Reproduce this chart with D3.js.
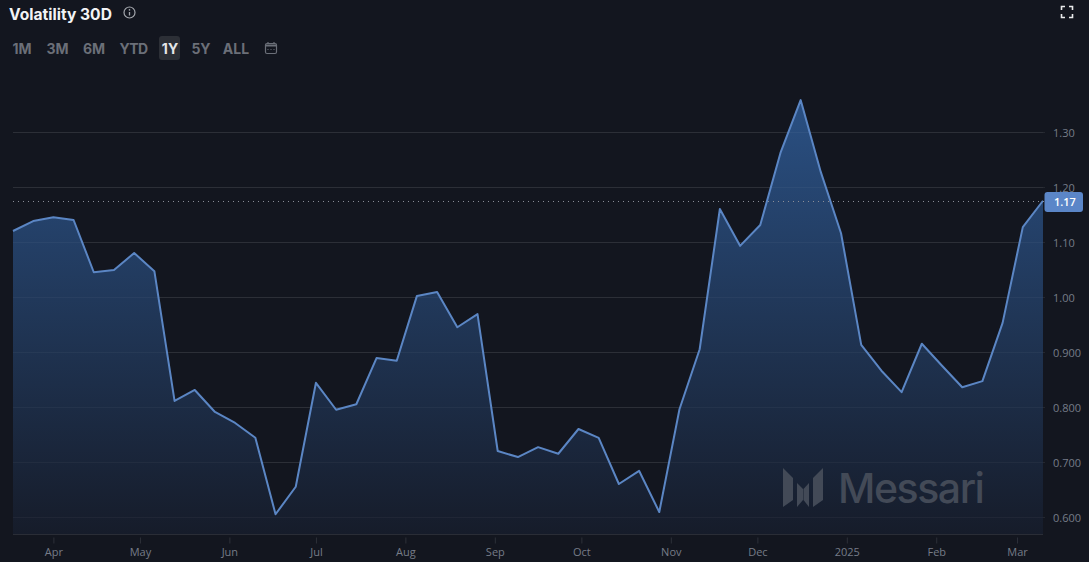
<!DOCTYPE html>
<html lang="en">
  <head>
    <meta charset="utf-8" />
    <title>Volatility 30D</title>
    <script src="https://d3js.org/d3.v7.min.js"></script>
    <style type="text/css">
      html, body { margin: 0; padding: 0; background: #13161f; overflow: hidden; }
      text { font-family: Inter, "Noto Sans", sans-serif; }
      .axis text { fill: #767c88; font-size: 11px; font-family: "Open Sans", sans-serif; }
    </style>
  </head>
  <body>
    <script type="text/javascript">
      //Width and height
      var w = 1089;
      var h = 562;

      //Weekly values, first point is Mon 18 Mar 2024
      var firstDate = new Date(Date.UTC(2024, 2, 18));
      var volatility = [
        1.12, 1.138, 1.145, 1.14, 1.045, 1.049, 1.08, 1.047, 0.811, 0.831, 0.791,
        0.771, 0.744, 0.605, 0.655, 0.844, 0.795, 0.805, 0.889, 0.884, 1.002, 1.009,
        0.945, 0.969, 0.72, 0.709, 0.727, 0.715, 0.76, 0.744, 0.66, 0.684, 0.609,
        0.796, 0.905, 1.16, 1.093, 1.131, 1.262, 1.358, 1.227, 1.116, 0.913, 0.866,
        0.827, 0.915, 0.875, 0.836, 0.847, 0.953, 1.127, 1.175
      ];
      var yTicks = [0.6, 0.7, 0.8, 0.9, 1.0, 1.1, 1.2, 1.3];
      var yTickLabels = ["0.600", "0.700", "0.800", "0.900", "1.00", "1.10", "1.20", "1.30"];
      var monthTicks = [
        [2024, 3], [2024, 4], [2024, 5], [2024, 6], [2024, 7], [2024, 8],
        [2024, 9], [2024, 10], [2024, 11], [2025, 0], [2025, 1], [2025, 2]
      ];
      var monthLabels = ["Apr", "May", "Jun", "Jul", "Aug", "Sep", "Oct", "Nov", "Dec", "2025", "Feb", "Mar"];
      var ranges = ["1M", "3M", "6M", "YTD", "1Y", "5Y", "ALL"];
      var rangeX = [22, 57.5, 94, 133.5, 170, 201, 236];
      var lastLabel = "1.17";

      var dataset = volatility.map(function (d, i) {
        return { date: d3.utcDay.offset(firstDate, i * 7), value: d };
      });

      var xScale = d3
        .scaleUtc()
        .domain(d3.extent(dataset, function (d) { return d.date; }))
        .range([13, 1043]);

      //0.600 sits at y=517 and 1.30 at y=132
      var yScale = d3.scaleLinear().domain([0.6, 1.3]).range([517, 132]);
      var baseY = 534;

      //Create SVG element
      var svg = d3
        .select("body")
        .append("svg")
        .attr("width", w)
        .attr("height", h)
        .style("display", "block");

      var defs = svg.append("defs");
      var grad = defs
        .append("linearGradient")
        .attr("id", "areaFill")
        .attr("gradientUnits", "userSpaceOnUse")
        .attr("x1", 0)
        .attr("x2", 0)
        .attr("y1", yScale(1.358))
        .attr("y2", baseY);
      grad.append("stop").attr("offset", 0).attr("stop-color", "#2a5083");
      grad.append("stop").attr("offset", 1).attr("stop-color", "#161c2a");

      //Grid lines
      svg
        .append("g")
        .selectAll("line")
        .data(yTicks)
        .enter()
        .append("line")
        .attr("x1", 13)
        .attr("x2", 1045)
        .attr("y1", function (d) { return Math.round(yScale(d)) + 0.5; })
        .attr("y2", function (d) { return Math.round(yScale(d)) + 0.5; })
        .attr("stroke", "#24272f")
        .attr("stroke-width", 1);

      //Area and line
      var area = d3
        .area()
        .x(function (d) { return xScale(d.date); })
        .y0(baseY)
        .y1(function (d) { return yScale(d.value); });
      var line = d3
        .line()
        .x(function (d) { return xScale(d.date); })
        .y(function (d) { return yScale(d.value); });

      svg.append("path").datum(dataset).attr("d", area).attr("fill", "url(#areaFill)");

      //Grid lines stay faintly visible through the area
      svg
        .append("g")
        .selectAll("line")
        .data(yTicks)
        .enter()
        .append("line")
        .attr("x1", 13)
        .attr("x2", 1043)
        .attr("y1", function (d) { return Math.round(yScale(d)) + 0.5; })
        .attr("y2", function (d) { return Math.round(yScale(d)) + 0.5; })
        .attr("stroke", "#ffffff")
        .attr("stroke-opacity", 0.04);

      //Messari watermark
      var logo = svg.append("g").attr("fill", "#434a57");
      logo.append("path").attr("d", "M783,468 L793,478 V500 L783,507 Z");
      logo.append("path").attr("d", "M797,483 L803,489 V500 L797,507 Z");
      logo.append("path").attr("d", "M803.5,489 L809,483 V507 L803.5,500 Z");
      logo.append("path").attr("d", "M823,468 V500 L813,507 V478 Z");
      svg
        .append("text")
        .attr("x", 838)
        .attr("y", 503)
        .attr("font-size", 41)
        .attr("font-weight", 500)
        .attr("letter-spacing", -1.45)
        .attr("fill", "#434a57")
        .text("Messari");

      //Line on top of the watermark
      svg
        .append("path")
        .datum(dataset)
        .attr("d", line)
        .attr("fill", "none")
        .attr("stroke", "#5b86c4")
        .attr("stroke-width", 2)
        .attr("stroke-linejoin", "round");

      //Dotted last value line
      var lastY = yScale(volatility[volatility.length - 1]);
      svg
        .append("line")
        .attr("x1", 13)
        .attr("x2", 1045)
        .attr("y1", Math.round(lastY) + 0.5)
        .attr("y2", Math.round(lastY) + 0.5)
        .attr("stroke", "#8a8e97")
        .attr("stroke-dasharray", "1 4");

      //Axes
      var xAxis = d3
        .axisBottom(xScale)
        .tickValues(monthTicks.map(function (d) { return new Date(Date.UTC(d[0], d[1], 1)); }))
        .tickFormat(function (d, i) { return monthLabels[i]; })
        .tickSizeOuter(0)
        .tickSize(9)
        .tickPadding(5);
      var xg = svg
        .append("g")
        .attr("class", "axis")
        .attr("transform", "translate(0," + (baseY + 0.5) + ")")
        .call(xAxis);
      xg.select(".domain").remove();
      xg.selectAll("line").attr("y1", 3).attr("stroke", "#2d3039");
      svg
        .append("line")
        .attr("x1", 13)
        .attr("x2", 1043)
        .attr("y1", baseY + 0.5)
        .attr("y2", baseY + 0.5)
        .attr("stroke", "#2a2d36");

      var yAxis = d3
        .axisRight(yScale)
        .tickValues(yTicks)
        .tickFormat(function (d, i) { return yTickLabels[i]; })
        .tickSize(0)
        .tickPadding(0);
      var yg = svg
        .append("g")
        .attr("class", "axis")
        .attr("transform", "translate(1053,0.5)")
        .call(yAxis);
      yg.select(".domain").remove();

      //Last value badge
      svg
        .append("rect")
        .attr("x", 1044.5)
        .attr("y", 192)
        .attr("width", 38.5)
        .attr("height", 20)
        .attr("rx", 3)
        .attr("fill", "#5b86c8");
      svg
        .append("text")
        .attr("x", 1054)
        .attr("y", lastY + 5)
        .attr("font-size", 11)
        .attr("font-weight", 600)
        .attr("fill", "#ffffff")
        .style("font-family", "'Open Sans', sans-serif")
        .text(lastLabel);

      //Title
      svg
        .append("text")
        .attr("x", 9)
        .attr("y", 19.5)
        .attr("font-size", 15.6)
        .attr("font-weight", 700)
        .attr("fill", "#f2f3f5")
        .text("Volatility 30D");

      //Info icon
      var info = svg.append("g").attr("transform", "translate(129.5,12.5)");
      info.append("circle").attr("r", 5.5).attr("fill", "none").attr("stroke", "#a4a7ad").attr("stroke-width", 1.2);
      info.append("line").attr("y1", -0.5).attr("y2", 3).attr("stroke", "#a4a7ad").attr("stroke-width", 1.3);
      info.append("circle").attr("cy", -2.6).attr("r", 0.8).attr("fill", "#a4a7ad");

      //Range buttons
      svg
        .append("rect")
        .attr("x", 159)
        .attr("y", 36)
        .attr("width", 21)
        .attr("height", 24)
        .attr("rx", 3)
        .attr("fill", "#2c2f36");
      svg
        .append("g")
        .selectAll("text")
        .data(ranges)
        .enter()
        .append("text")
        .attr("x", function (d, i) { return rangeX[i]; })
        .attr("y", 54)
        .attr("text-anchor", "middle")
        .attr("font-size", 14)
        .attr("font-weight", 700)
        .attr("letter-spacing", function (d) { return d === "YTD" ? -0.6 : 0; })
        .attr("fill", function (d) { return d === "1Y" ? "#e6e7e9" : "#6b6f78"; })
        .text(function (d) { return d; });

      //Calendar icon
      var cal = svg.append("g").attr("transform", "translate(265,42)").attr("stroke", "#6b6f78").attr("fill", "none");
      cal.append("rect").attr("x", 0.5).attr("y", 1.5).attr("width", 11).attr("height", 10).attr("rx", 1.5).attr("stroke-width", 1.2);
      cal.append("line").attr("x1", 0.5).attr("x2", 11.5).attr("y1", 3.5).attr("y2", 3.5).attr("stroke-width", 2);
      cal.append("line").attr("x1", 3).attr("x2", 3).attr("y1", 0).attr("y2", 2).attr("stroke-width", 1.2);
      cal.append("line").attr("x1", 9).attr("x2", 9).attr("y1", 0).attr("y2", 2).attr("stroke-width", 1.2);
      cal.append("line").attr("x1", 2.5).attr("x2", 9.5).attr("y1", 7.5).attr("y2", 7.5).attr("stroke-width", 1).attr("stroke-dasharray", "1 2");

      //Fullscreen icon
      svg
        .append("path")
        .attr("d", "M1061.5,10 V6.5 H1065 M1069,6.5 H1072.5 V10 M1072.5,14 V17.5 H1069 M1065,17.5 H1061.5 V14")
        .attr("fill", "none")
        .attr("stroke", "#e8e9eb")
        .attr("stroke-width", 1.6);
    </script>
  </body>
</html>
